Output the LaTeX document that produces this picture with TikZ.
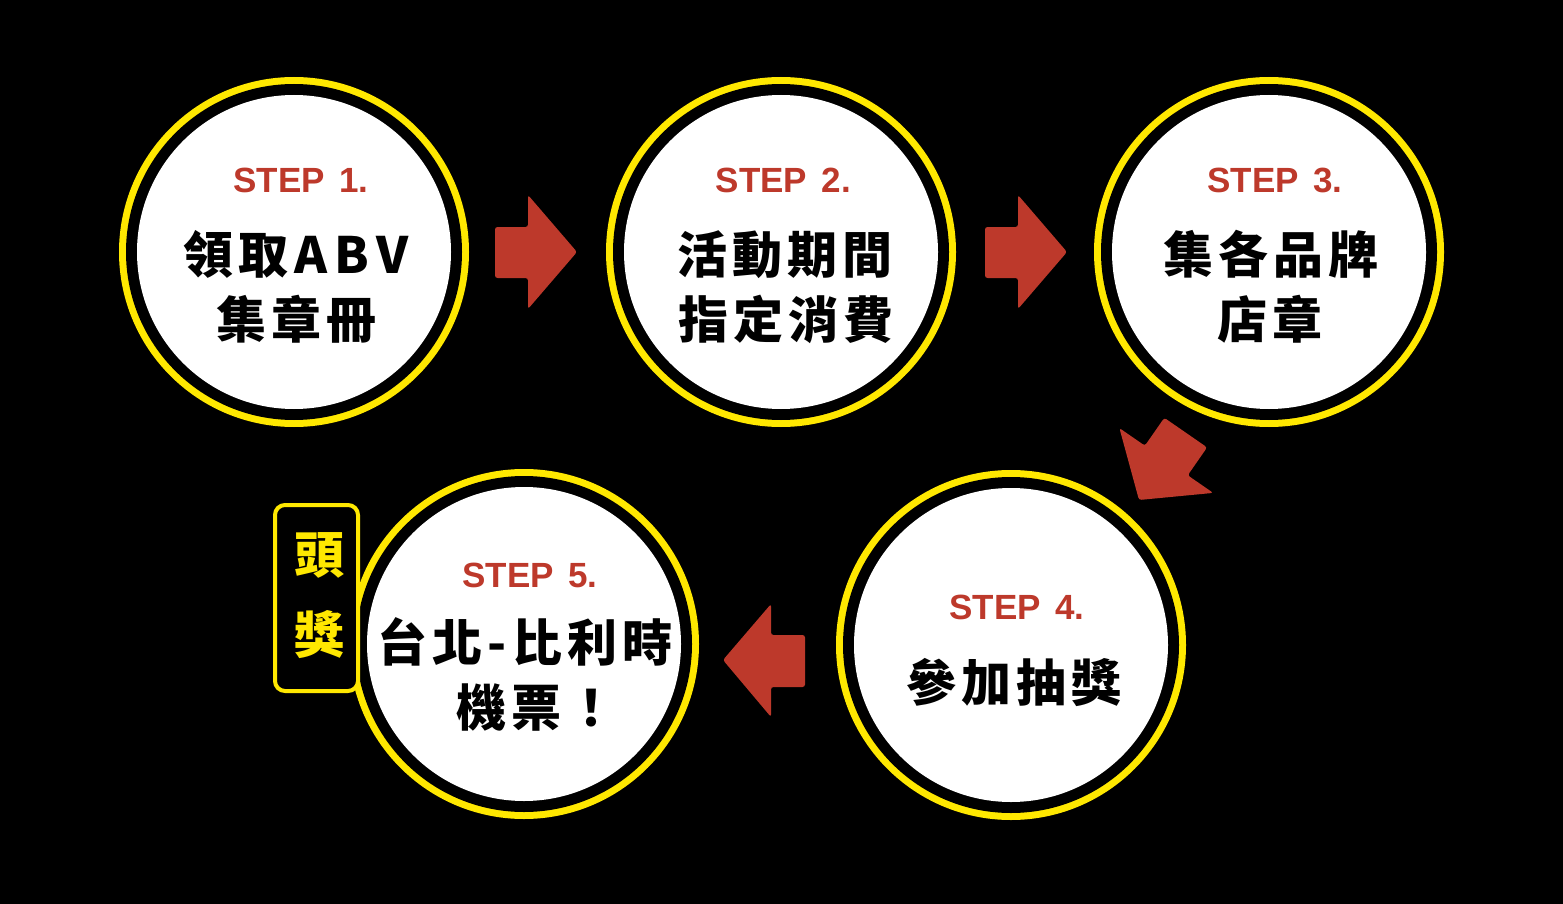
\documentclass[tikz,border=0pt]{standalone}
\usepackage{fontspec}
\setmainfont{Liberation Sans}
\newfontfamily\cjk[LetterSpace=10]{Noto Sans CJK TC}
\definecolor{ringyellow}{RGB}{255,232,0}
\definecolor{stepred}{RGB}{189,57,43}
\tikzset{
  ring/.style={circle, fill=ringyellow, minimum size=350pt, inner sep=0pt},
  steplabel/.style={anchor=base, inner sep=0pt, text=stepred, font=\fontsize{35}{35}\selectfont\bfseries},
  cjkline/.style={anchor=base, inner sep=0pt, text=black, font=\cjk\fontsize{50}{50}\selectfont\bfseries},
  prizeline/.style={anchor=base, inner sep=0pt, text=ringyellow, font=\cjk\fontsize{50}{50}\selectfont\bfseries},
  blockarrow/.style={fill=stepred, rounded corners=2.5pt},
  prizebox/.style={draw=ringyellow, line width=4pt, rounded corners=10pt, fill=black, minimum width=83pt, minimum height=186pt, inner sep=0pt}
}
\begin{document}
\begin{tikzpicture}[x=1pt,y=-1pt]
\fill[black] (0,0) rectangle (1563,904);
\useasboundingbox (0,0) rectangle (1563,904);
% circles
\foreach \n/\cx/\cy in {c1/294/252, c2/781/252, c3/1269/252, c4/1011/645, c5/524/644}{
  \node[ring] (\n) at (\cx,\cy) {};
  \fill[black] (\n.center) circle (168pt);
  \fill[white] (\n.center) circle (157pt);
}
% step 1
\node[steplabel] (s1) at (301,193) {STEP\hspace{0.42em}1.};
\node[cjkline] (t1a) at (296,273.5) {領取\hspace{0.12em}{\addfontfeature{LetterSpace=15}ABV}};
\node[cjkline] (t1b) at (296,338.5) {集章冊};
% step 2
\node[steplabel] (s2) at (783.5,193) {STEP\hspace{0.42em}2.};
\node[cjkline] (t2a) at (785,273.5) {活動期間};
\node[cjkline] (t2b) at (786,338.5) {指定消費};
% step 3
\node[steplabel] (s3) at (1275,193) {STEP\hspace{0.42em}3.};
\node[cjkline] (t3a) at (1271,273.5) {集各品牌};
\node[cjkline] (t3b) at (1270,338.5) {店章};
% step 4
\node[steplabel] (s4) at (1017,619) {STEP\hspace{0.42em}4.};
\node[cjkline] (t4a) at (1014,701.5) {參加抽獎};
% step 5
\node[steplabel] (s5) at (530,587) {STEP\hspace{0.42em}5.};
\node[cjkline] (t5a) at (525,661.5) {台北-比利時};
\node[cjkline] (t5b) at (536,726.5) {機票！};
% prize box
\node[prizebox] (box) at (316.5,598) {};
\node[prizeline] (p1) at (319,573.5) {頭};
\node[prizeline] (p2) at (319,653.5) {獎};
% block arrows
\fill[blockarrow] (495,227) -- (528,227) -- (528,195) -- (577,252) -- (528,309) -- (528,278) -- (495,278) -- cycle;
\fill[blockarrow] (985,227) -- (1018,227) -- (1018,195) -- (1067,252) -- (1018,309) -- (1018,278) -- (985,278) -- cycle;
\fill[blockarrow] (1164.3,417.8) -- (1207.1,447.4) -- (1187.7,475.3) -- (1213.2,492.9) -- (1139,500) -- (1119.4,428.1) -- (1144.9,445.7) -- cycle;
\fill[blockarrow] (805,635) -- (771,635) -- (771,604) -- (723,660) -- (771,717) -- (771,687) -- (805,687) -- cycle;
\end{tikzpicture}
\end{document}
